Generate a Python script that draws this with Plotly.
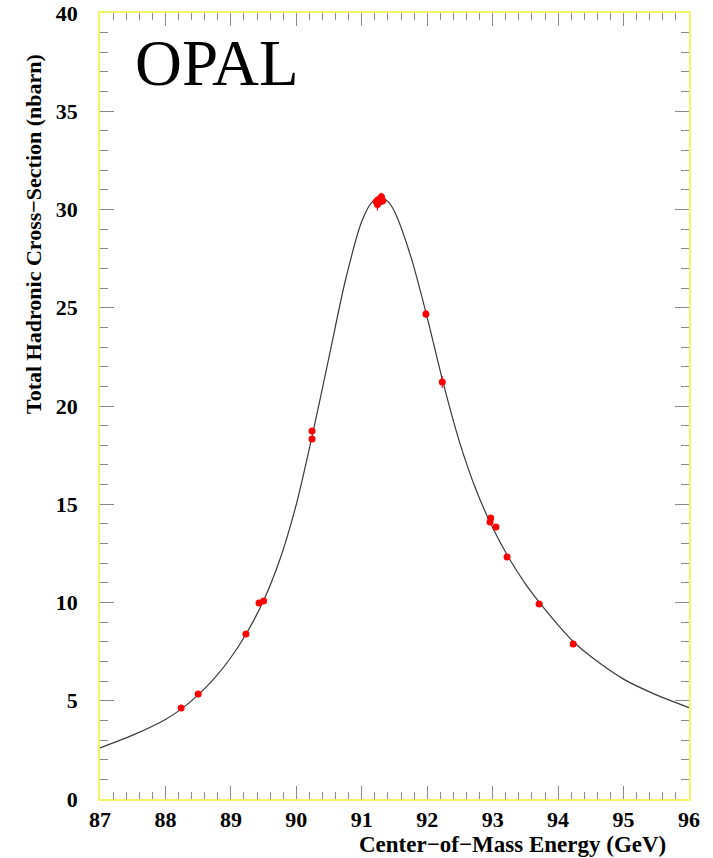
import plotly.graph_objects as go

# measured data points (GeV, nb)
energy = [88.24, 88.50, 89.23, 89.43, 89.50, 90.24, 90.24,
          91.22, 91.24, 91.25, 91.28, 91.30, 91.32,
          91.98, 92.23, 92.96, 92.97, 93.05, 93.22, 93.71, 94.23]
sigma = [4.63, 5.34, 8.40, 9.98, 10.08, 18.73, 18.32,
         30.40, 30.25, 30.50, 30.40, 30.65, 30.45,
         24.68, 21.22, 14.10, 14.30, 13.84, 12.32, 9.92, 7.89]
sigma_err = [0.08, 0.08, 0.1, 0.1, 0.1, 0.15, 0.15,
             0.2, 0.3, 0.2, 0.2, 0.2, 0.2,
             0.2, 0.3, 0.15, 0.15, 0.15, 0.12, 0.1, 0.1]

# fitted line shape
fit_energy = [87.0, 87.5, 88.0, 88.25, 88.5, 88.75, 89.0, 89.25, 89.5, 89.75,
              90.0, 90.25, 90.5, 90.75, 91.0, 91.15, 91.27, 91.4, 91.5, 91.75,
              92.0, 92.25, 92.5, 92.75, 93.0, 93.25, 93.5, 93.75, 94.0, 94.25,
              94.5, 95.0, 95.5, 96.0]
fit_sigma = [2.6, 3.25, 4.05, 4.6, 5.3, 6.15, 7.2, 8.5, 10.1, 12.2,
             15.0, 18.6, 22.5, 26.4, 29.4, 30.35, 30.6, 30.4, 29.9, 27.6,
             24.5, 21.1, 18.1, 15.7, 13.8, 12.25, 10.95, 9.85, 8.85, 7.95,
             7.25, 6.1, 5.3, 4.65]

serif = "Liberation Serif"
frame = "#f4f46a"
tickc = "#8a8a8a"

L, R, T, B = 100, 689, 13, 799  # plot area in pixels
PW, PH = R - L, B - T

fig = go.Figure()
fig.add_trace(go.Scatter(x=fit_energy, y=fit_sigma, mode="lines",
                         line=dict(color="#3a3a3a", width=1.2, shape="spline", smoothing=0.8),
                         hoverinfo="skip", showlegend=False))
fig.add_trace(go.Scatter(x=energy, y=sigma, mode="markers",
                         marker=dict(color="#ff0000", size=7),
                         error_y=dict(type="data", array=sigma_err, color="#ff0000",
                                      thickness=1.2, width=0),
                         showlegend=False))

fig.update_layout(
    width=713, height=858,
    margin=dict(l=L, r=713 - R, t=T, b=858 - B, autoexpand=False),
    paper_bgcolor="white", plot_bgcolor="white",
    xaxis=dict(range=[87, 96], dtick=1, tick0=87, showgrid=False, zeroline=False,
               automargin=False,
               showline=True, linecolor=frame, linewidth=1.5, mirror="ticks",
               ticks="inside", ticklen=13, tickcolor=tickc, tickwidth=1,
               minor=dict(dtick=0.2, tick0=87, ticks="inside", ticklen=7, tickcolor=tickc, showgrid=False),
               tickfont=dict(family=serif, size=22, color="black", weight="bold"),
               ticklabelstandoff=0),
    yaxis=dict(range=[0, 40], dtick=5, tick0=0, showgrid=False, zeroline=False,
               automargin=False,
               showline=True, linecolor=frame, linewidth=1.5, mirror="ticks",
               ticks="inside", ticklen=14, tickcolor=tickc, tickwidth=1,
               minor=dict(dtick=1, tick0=0, ticks="inside", ticklen=8, tickcolor=tickc, showgrid=False),
               tickfont=dict(family=serif, size=22, color="black", weight="bold"),
               ticklabelstandoff=16),
    annotations=[
        dict(text="OPAL", x=(133 - L) / PW, y=(B - 63) / PH, xref="paper", yref="paper",
             xanchor="left", yanchor="middle", showarrow=False,
             font=dict(family=serif, size=65, color="black")),
        dict(text="Center\u2212of\u2212Mass Energy (GeV)", x=(668 - L) / PW, y=(B - 845) / PH,
             xref="paper", yref="paper", showarrow=False, xanchor="right", yanchor="middle",
             font=dict(family=serif, size=23, color="black", weight="bold")),
        dict(text="Total Hadronic Cross\u2212Section (nbarn)", x=(33 - L) / PW, y=(B - 234) / PH,
             xref="paper", yref="paper", showarrow=False, textangle=-90,
             xanchor="center", yanchor="middle",
             font=dict(family=serif, size=22, color="black", weight="bold")),
    ],
)

fig.write_html("out.html")
